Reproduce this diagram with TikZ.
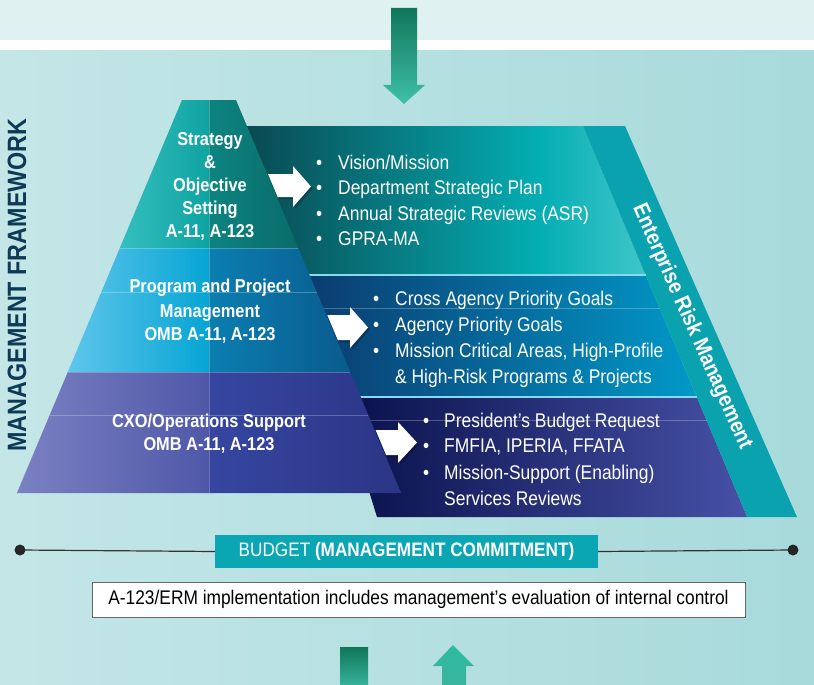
\documentclass[tikz,border=0pt]{standalone}
\usepackage{fontspec}
\setmainfont[FakeStretch=0.88]{Liberation Sans}
\definecolor{bgtop}{HTML}{E0F1F1}
\definecolor{bgA}{HTML}{C4E6E7}
\definecolor{bgB}{HTML}{A8DADB}
\definecolor{arrA}{HTML}{0F7659}
\definecolor{arrB}{HTML}{41C0AA}
\definecolor{tbA}{HTML}{0A474F}
\definecolor{tbB}{HTML}{04AEB3}
\definecolor{tbC}{HTML}{40C6CA}
\definecolor{mbA}{HTML}{0B3A6E}
\definecolor{mbB}{HTML}{0199C8}
\definecolor{bbA}{HTML}{08104A}
\definecolor{bbB}{HTML}{4751A6}
\definecolor{erm}{HTML}{0AA2AE}
\definecolor{ptA}{HTML}{35BFBF}
\definecolor{ptB}{HTML}{0FA3A1}
\definecolor{ptC}{HTML}{0C8480}
\definecolor{ptD}{HTML}{0A6B69}
\definecolor{pmA}{HTML}{5FC6EB}
\definecolor{pmB}{HTML}{06A5D4}
\definecolor{pmC}{HTML}{0B7EB0}
\definecolor{pmD}{HTML}{0A5B8D}
\definecolor{pbA}{HTML}{7B81C2}
\definecolor{pbB}{HTML}{4F58A8}
\definecolor{pbC}{HTML}{3646A0}
\definecolor{pbD}{HTML}{2B3585}
\definecolor{sepl}{HTML}{8AD8F0}
\definecolor{mfw}{HTML}{0E3A57}
\definecolor{budg}{HTML}{0AA6B4}
\pgfdeclarehorizontalshading{topbandsh}{100bp}{color(0bp)=(tbA); color(25bp)=(tbA); color(62bp)=(tbB); color(75bp)=(tbC); color(100bp)=(tbC)}
\begin{document}
\begin{tikzpicture}[x=1pt,y=-1pt,
  bul/.style={anchor=base west, text=white, inner sep=0pt, font=\fontsize{19.8}{22}\selectfont},
  pyr/.style={anchor=base, text=white, inner sep=0pt, font=\bfseries\fontsize{18.6}{22}\selectfont},
  warrow/.style={fill=white, draw=none},
  ashadow/.style={fill=black, opacity=0.22, draw=none},
  faint/.style={draw=white, opacity=0.25, line width=0.8pt}]
\useasboundingbox (0,0) rectangle (814,685);
% background
\shade[left color=bgA, right color=bgB] (0,0) rectangle (814,685);
\fill[bgtop] (0,0) rectangle (814,40);
\fill[white] (0,40) rectangle (814,50);
% top arrow
\shade[top color=arrA, bottom color=arrB] (391,8) -- (417,8) -- (417,85) -- (425,85) -- (404,104) -- (383,85) -- (391,85) -- cycle;
% bands
\shade[shading=topbandsh] (240,126) -- (583,126) -- (645.6,275) -- (240,275) -- cycle;
\shade[left color=mbA, right color=mbB] (300,275) -- (645.6,275) -- (696.8,397) -- (300,397) -- cycle;
\shade[left color=bbA, right color=bbB] (340,397) -- (696.8,397) -- (747.2,517) -- (377,517) -- cycle;
\fill[erm] (583,126) -- (625,126) -- (797,517) -- (747.2,517) -- cycle;
\draw[sepl, line width=2pt] (300,275) -- (645.6,275);
\draw[sepl, line width=2pt] (340,397) -- (696.8,397);
\draw[faint] (300,308) -- (659.5,308);
\draw[faint] (340,420) -- (706.5,420);
% pyramid top
\shade[left color=ptA, right color=ptB] (182,100) -- (209,100) -- (209,248) -- (119.8,248) -- cycle;
\shade[left color=ptC, right color=ptD] (209,100) -- (236,100) -- (298.2,248) -- (209,248) -- cycle;
% pyramid middle
\shade[left color=pmA, right color=pmB] (119.8,248) -- (209,248) -- (209,372) -- (67.8,372) -- cycle;
\shade[left color=pmC, right color=pmD] (209,248) -- (298.2,248) -- (350.2,372) -- (209,372) -- cycle;
% pyramid bottom
\shade[left color=pbA, right color=pbB] (67.8,372) -- (209,372) -- (209,493) -- (16.9,493) -- cycle;
\shade[left color=pbC, right color=pbD] (209,372) -- (350.2,372) -- (401.1,493) -- (209,493) -- cycle;
\draw[faint] (209,100) -- (209,493);
\draw[faint] (119.8,248) -- (298.2,248);
\draw[faint] (101.3,292) -- (316.6,292);
\draw[faint] (67.8,372) -- (350.2,372);
\draw[faint] (49.7,415) -- (368.3,415);
% white arrows (with soft shadow)
\fill[ashadow] (270,176) -- (295,176) -- (295,168) -- (313,188.5) -- (295,209) -- (295,199) -- (279.7,199) -- cycle;
\fill[ashadow] (329.3,317) -- (352,317) -- (352,309) -- (370,329.5) -- (352,350) -- (352,342) -- (339.8,342) -- cycle;
\fill[ashadow] (377.6,432) -- (400,432) -- (400,424) -- (419,444.5) -- (400,465) -- (400,457) -- (388.1,457) -- cycle;
\fill[warrow] (268,174) -- (293,174) -- (293,166) -- (311,186.5) -- (293,207) -- (293,197) -- (277.7,197) -- cycle;
\fill[warrow] (327.3,315) -- (350,315) -- (350,307) -- (368,327.5) -- (350,348) -- (350,340) -- (337.8,340) -- cycle;
\fill[warrow] (375.6,430) -- (398,430) -- (398,422) -- (417,442.5) -- (398,463) -- (398,455) -- (386.1,455) -- cycle;
% pyramid labels
\node[pyr] (s1) at (210,145) {Strategy};
\node[pyr] (s2) at (210,168) {\&};
\node[pyr] (s3) at (210,191) {Objective};
\node[pyr] (s4) at (210,214) {Setting};
\node[pyr] (s5) at (210,237) {A-11, A-123};
\node[pyr] (p1) at (210,292) {Program and Project};
\node[pyr] (p2) at (210,317) {Management};
\node[pyr] (p3) at (210,340) {OMB A-11, A-123};
\node[pyr] (c1) at (209,427) {CXO/Operations Support};
\node[pyr] (c2) at (209,450) {OMB A-11, A-123};
% top band bullets
\foreach \yy/\tt [count=\i] in {169/Vision\slash Mission, 194/Department Strategic Plan, 220/Annual Strategic Reviews (ASR), 245/GPRA-MA}{
  \node[bul] (tb\i) at (316,\yy) {•};
  \node[bul] (tt\i) at (338,\yy) {\tt};
}
% middle band bullets
\foreach \yy/\tt [count=\i] in {305/Cross Agency Priority Goals, 331/Agency Priority Goals, 357/{Mission Critical Areas, High-Profile}}{
  \node[bul] (mb\i) at (373,\yy) {•};
  \node[bul] (mt\i) at (395,\yy) {\tt};
}
\node[bul] (mt4) at (395,383) {\& High-Risk Programs \& Projects};
% bottom band bullets
\foreach \yy/\tt [count=\i] in {427/President’s Budget Request, 452/{FMFIA, IPERIA, FFATA}, 479/Mission-Support (Enabling)}{
  \node[bul] (bb\i) at (423,\yy) {•};
  \node[bul] (bt\i) at (444,\yy) {\tt};
}
\node[bul] (bt4) at (444,505) {Services Reviews};
% ERM label
\node[rotate=-66, text=white, inner sep=0pt, font=\bfseries\fontsize{22}{24}\selectfont] (ermt) at (692,327) {Enterprise Risk Management};
% side label
\node[rotate=90, text=mfw, inner sep=0pt, font=\bfseries\fontsize{26.5}{28}\selectfont] (mfwt) at (17,285) {MANAGEMENT FRAMEWORK};
% budget line
\coordinate (bl) at (20,550);
\coordinate (br) at (793,550);
\node[fill=budg, minimum width=383pt, minimum height=33pt, inner sep=0pt] (budget) at (406.5,551.5) {};
\draw[black!80, line width=1.2pt] (bl) -- (budget.west);
\draw[black!80, line width=1.2pt] (budget.east) -- (br);
\fill[black!85] (bl) circle (5.5);
\fill[black!85] (br) circle (5.5);
\node[text=white, font=\fontsize{19.5}{22}\selectfont, inner sep=0pt] (budt) at (budget.center) {BUDGET \textbf{(MANAGEMENT COMMITMENT)}};
% note box
\node[draw=black!60, fill=white, minimum width=653pt, minimum height=35pt, inner sep=0pt, font=\fontsize{19.7}{22}\selectfont] (note) at (418.5,599.5) {A-123/ERM implementation includes management’s evaluation of internal control};
% bottom arrows
\shade[top color=arrA, bottom color=arrB!80!arrA] (340,647) rectangle (368,685);
\shade[top color=arrB!110, bottom color=arrB!85!arrA] (453,645) -- (474,666) -- (466,666) -- (466,685) -- (442,685) -- (442,666) -- (433,666) -- cycle;
\end{tikzpicture}
\end{document}
